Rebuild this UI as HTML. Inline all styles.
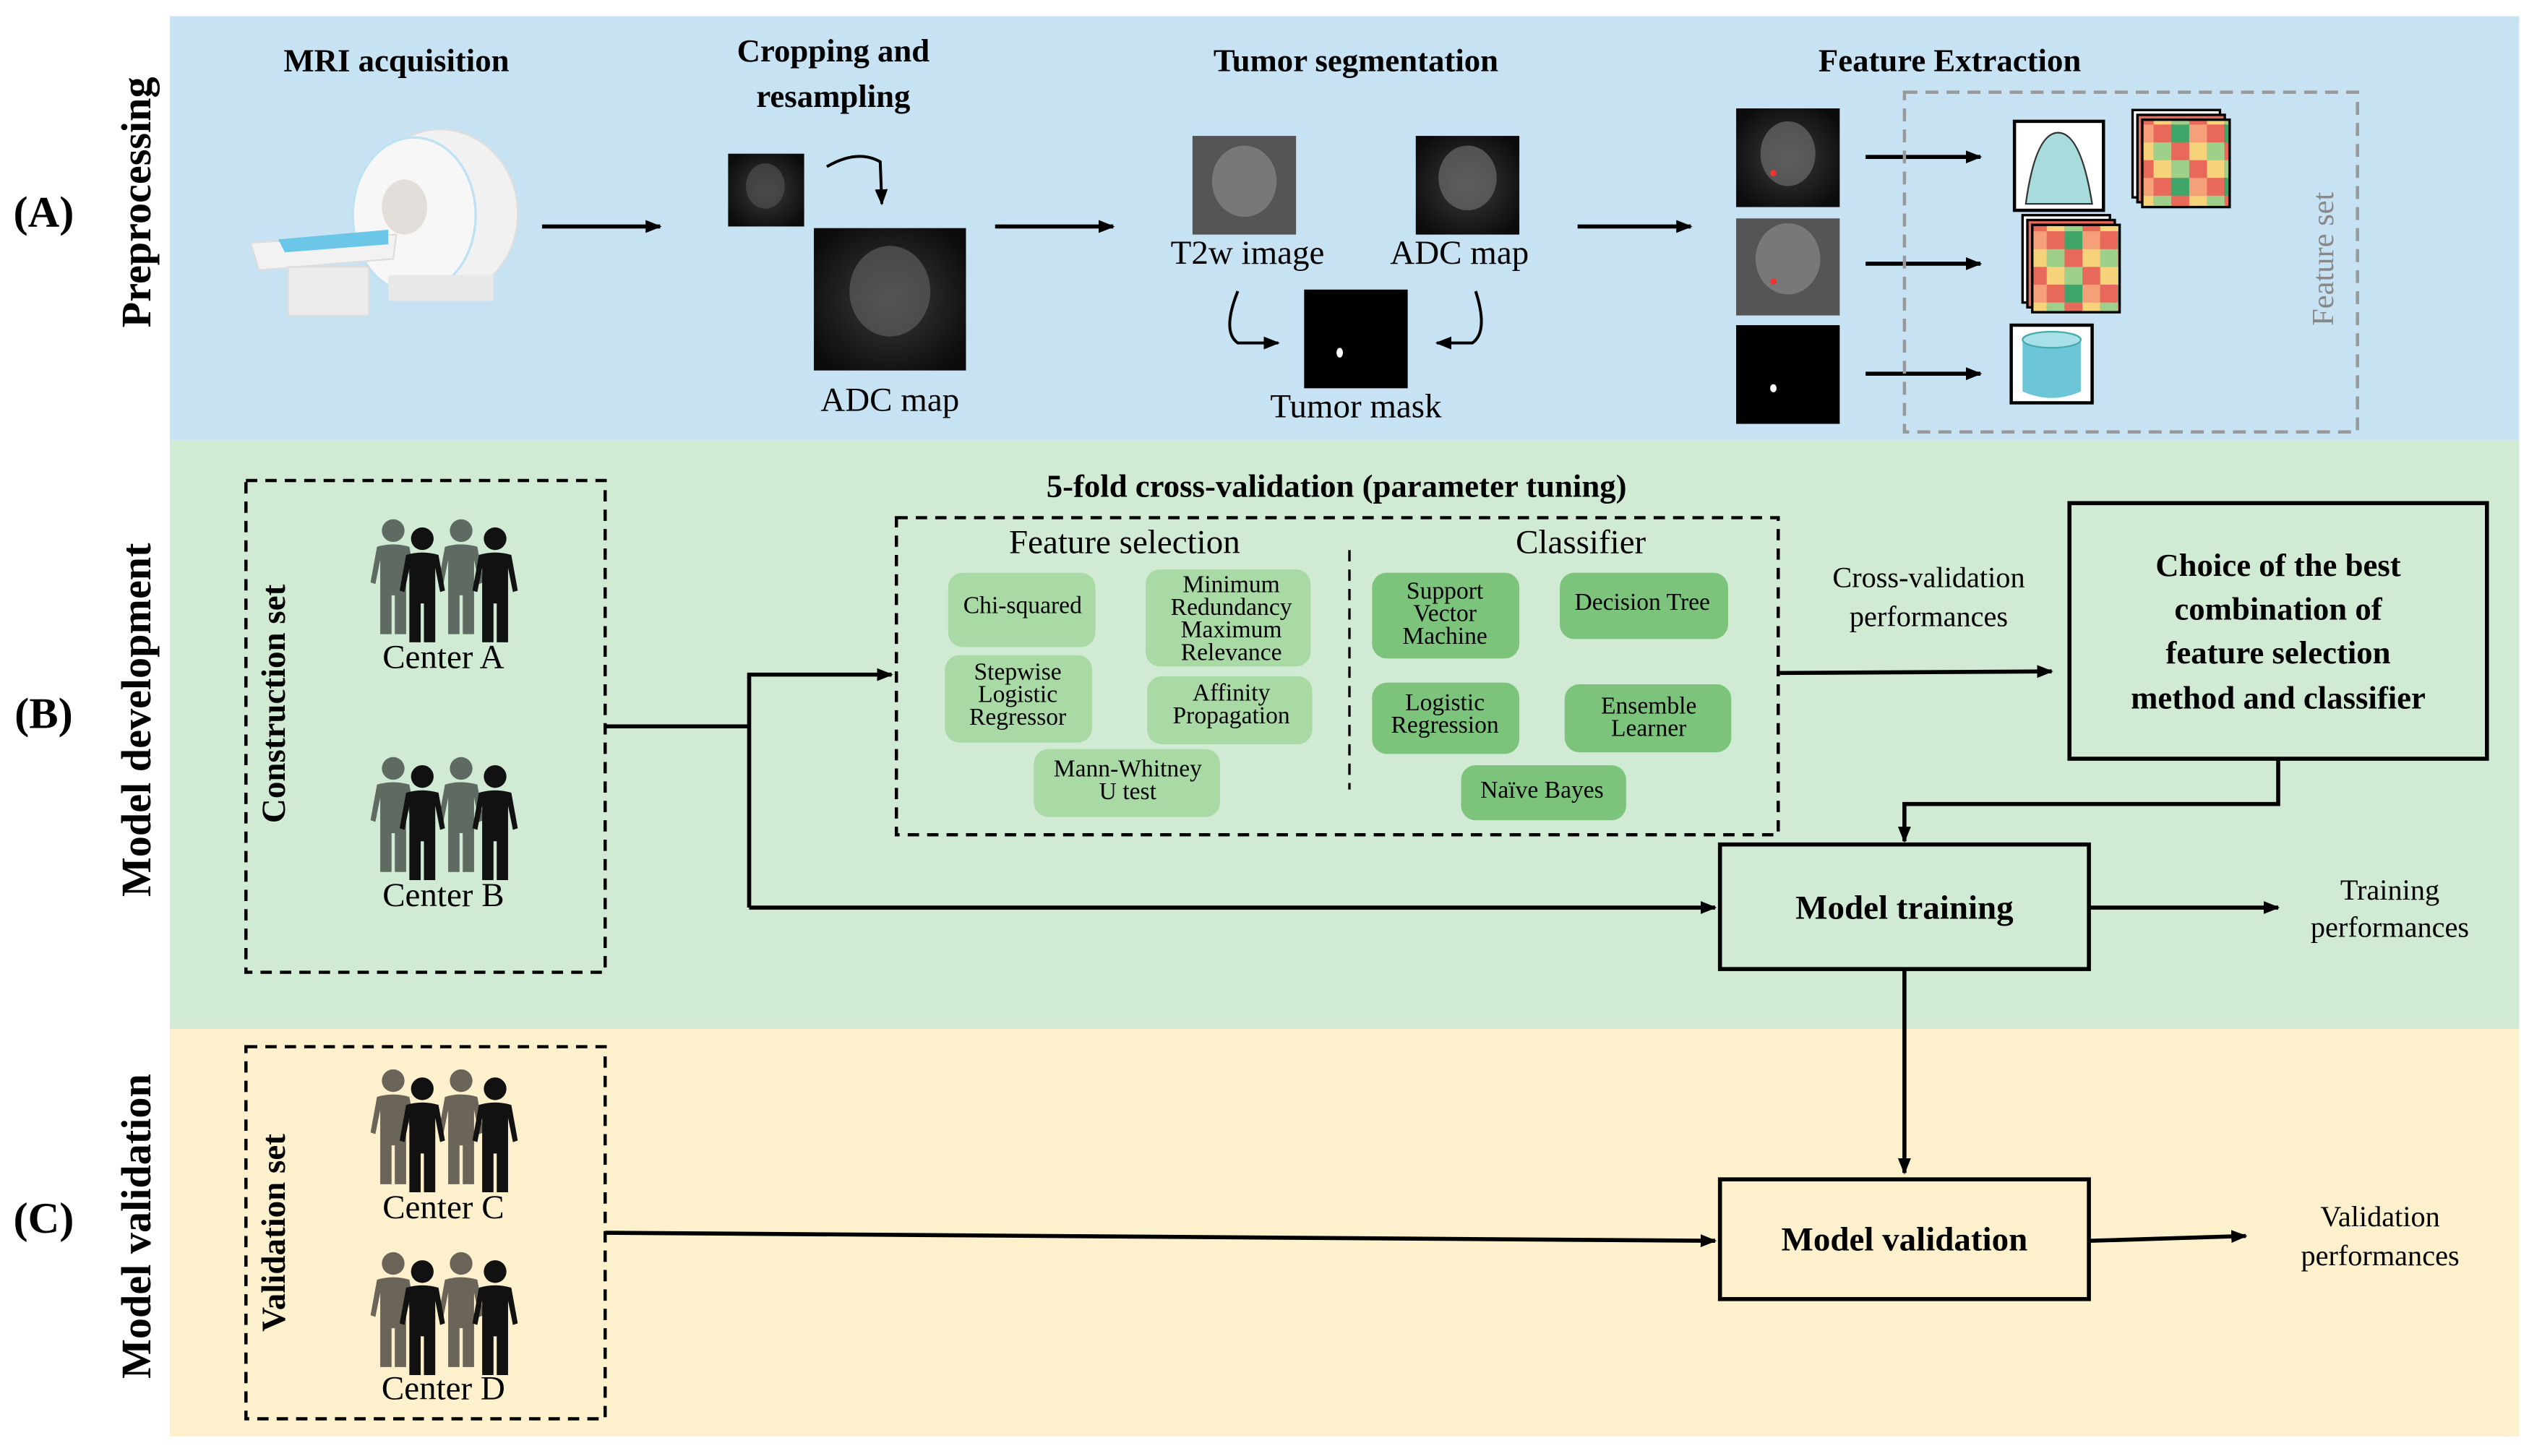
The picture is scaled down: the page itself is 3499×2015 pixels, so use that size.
<!DOCTYPE html>
<html><head><meta charset="utf-8"><style>html,body{margin:0;padding:0;background:#fff}svg{display:block}svg text{font-family:"Liberation Serif","Times New Roman","DejaVu Serif",serif}</style></head><body>
<svg width="3499" height="2015" viewBox="0 0 1563 900" preserveAspectRatio="none" xmlns="http://www.w3.org/2000/svg">
<defs>
<marker id="ah" markerWidth="10" markerHeight="8" refX="9" refY="4" orient="auto" markerUnits="userSpaceOnUse"><path d="M0,0 L10,4 L0,8 z" fill="#000"/></marker>
<g id="p">
<circle cx="15" cy="8" r="7"/>
<path d="M5,18 Q15,15 25,18 L29,40 L26,41 L23,26 L23,72 L16,72 L16,48 L14,48 L14,72 L7,72 L7,26 L4,41 L1,40 Z"/>
</g>
<g id="grp">
<use href="#p" x="0" y="0" fill="#5f6a62"/>
<use href="#p" x="42" y="0" fill="#5f6a62"/>
<use href="#p" x="18" y="5" fill="#111"/>
<use href="#p" x="63" y="5" fill="#111"/>
</g>
<g id="grpC">
<use href="#p" x="0" y="0" fill="#6b6458"/>
<use href="#p" x="42" y="0" fill="#6b6458"/>
<use href="#p" x="18" y="5" fill="#111"/>
<use href="#p" x="63" y="5" fill="#111"/>
</g>
<pattern id="hm" width="33" height="33" patternUnits="userSpaceOnUse">
<rect width="11" height="11" fill="#e8685a"/><rect x="11" width="11" height="11" fill="#f6d27a"/><rect x="22" width="11" height="11" fill="#9fd08a"/>
<rect y="11" width="11" height="11" fill="#f6a07a"/><rect x="11" y="11" width="11" height="11" fill="#e8685a"/><rect x="22" y="11" width="11" height="11" fill="#3fa66a"/>
<rect y="22" width="11" height="11" fill="#f6d27a"/><rect x="11" y="22" width="11" height="11" fill="#9fd08a"/><rect x="22" y="22" width="11" height="11" fill="#e8685a"/>
</pattern>
<radialGradient id="mri" cx="0.5" cy="0.5" r="0.6"><stop offset="0" stop-color="#3a3a3a"/><stop offset="1" stop-color="#0c0c0c"/></radialGradient>
</defs>
<rect width="1563" height="900" fill="#fff"/>
<rect x="105" y="10" width="1452" height="262" fill="#c7e2f3"/>
<rect x="105" y="272" width="1452" height="364" fill="#d1ead4"/>
<rect x="105" y="636" width="1452" height="252" fill="#fdf0cc"/>

<g font-weight="bold" font-size="27">
<text x="27" y="140" text-anchor="middle">(A)</text>
<text x="27" y="450" text-anchor="middle">(B)</text>
<text x="27" y="762" text-anchor="middle">(C)</text>
<text transform="translate(93,125) rotate(-90)" text-anchor="middle" font-size="26">Preprocessing</text>
<text transform="translate(93,445) rotate(-90)" text-anchor="middle" font-size="26">Model development</text>
<text transform="translate(93,758) rotate(-90)" text-anchor="middle" font-size="26">Model validation</text>
</g>

<g font-weight="bold" font-size="20" text-anchor="middle">
<text x="245" y="44">MRI acquisition</text>
<text x="515" y="38">Cropping and</text>
<text x="515" y="66">resampling</text>
<text x="838" y="44">Tumor segmentation</text>
<text x="1205" y="44">Feature Extraction</text>
</g>

<!-- MRI scanner -->
<ellipse cx="272" cy="132" rx="48" ry="52" fill="#f1f1f1" stroke="#dedede"/>
<ellipse cx="256" cy="133" rx="38" ry="48" fill="#f7f7f7" stroke="#bfe2f2" stroke-width="1.5"/>
<ellipse cx="250" cy="128" rx="14" ry="17" fill="#e2dfdb"/>
<rect x="240" y="170" width="65" height="16" fill="#e8e8e8"/>
<path d="M155,150 L245,145 L243,160 L160,167 Z" fill="#f2f2f2" stroke="#ddd"/>
<path d="M172,148 L240,142 L240,151 L176,156 Z" fill="#6cc6e8"/>
<rect x="178" y="165" width="50" height="30" fill="#ececec" stroke="#ddd"/>

<g stroke="#000" stroke-width="2.5" fill="none">
<line x1="335" y1="140" x2="408" y2="140" marker-end="url(#ah)"/>
<line x1="615" y1="140" x2="688" y2="140" marker-end="url(#ah)"/>
<line x1="975" y1="140" x2="1045" y2="140" marker-end="url(#ah)"/>
<line x1="1153" y1="97" x2="1224" y2="97" marker-end="url(#ah)"/>
<line x1="1153" y1="163" x2="1224" y2="163" marker-end="url(#ah)"/>
<line x1="1153" y1="231" x2="1224" y2="231" marker-end="url(#ah)"/>
</g>
<g stroke="#000" stroke-width="1.8" fill="none">
<path d="M511,103 Q530,92 544,100 L545,126" marker-end="url(#ah)"/>
<path d="M765,180 Q755,205 765,212 L790,212" marker-end="url(#ah)"/>
<path d="M912,180 Q920,205 910,212 L888,212" marker-end="url(#ah)"/>
</g>

<rect x="450" y="95" width="47" height="45" fill="url(#mri)"/>
<ellipse cx="473" cy="115" rx="12" ry="14" fill="#555" opacity="0.6"/>
<rect x="503" y="141" width="94" height="88" fill="url(#mri)"/>
<ellipse cx="550" cy="180" rx="25" ry="28" fill="#666" opacity="0.6"/>
<text x="550" y="254" font-size="21" text-anchor="middle">ADC map</text>

<rect x="737" y="84" width="64" height="61" fill="#555"/>
<ellipse cx="769" cy="112" rx="20" ry="22" fill="#888" opacity="0.7"/>
<rect x="875" y="84" width="64" height="61" fill="url(#mri)"/>
<ellipse cx="907" cy="110" rx="18" ry="20" fill="#777" opacity="0.6"/>
<text x="771" y="163" font-size="21" text-anchor="middle">T2w image</text>
<text x="902" y="163" font-size="21" text-anchor="middle">ADC map</text>
<rect x="806" y="179" width="64" height="61" fill="#000"/>
<ellipse cx="828" cy="218" rx="2" ry="3" fill="#fff"/>
<text x="838" y="258" font-size="21" text-anchor="middle">Tumor mask</text>

<rect x="1073" y="67" width="64" height="61" fill="url(#mri)"/>
<ellipse cx="1105" cy="95" rx="17" ry="20" fill="#777" opacity="0.6"/>
<circle cx="1096" cy="107" r="2" fill="#e33"/>
<rect x="1073" y="135" width="64" height="60" fill="#555"/>
<ellipse cx="1105" cy="160" rx="20" ry="22" fill="#888" opacity="0.7"/>
<circle cx="1096" cy="174" r="2" fill="#e33"/>
<rect x="1073" y="201" width="64" height="61" fill="#000"/>
<ellipse cx="1096" cy="240" rx="2" ry="2.5" fill="#fff"/>

<rect x="1177" y="57" width="280" height="210" fill="none" stroke="#999" stroke-width="2" stroke-dasharray="8,5"/>
<text transform="translate(1442,160) rotate(-90)" font-size="19" fill="#888" text-anchor="middle">Feature set</text>
<rect x="1245" y="75" width="55" height="55" fill="#fff" stroke="#000" stroke-width="2"/>
<path d="M1252,126 Q1258,82 1272,82 Q1286,82 1293,126 Z" fill="#a8dcdc" stroke="#333"/>
<g stroke="#000" stroke-width="1.5">
<rect x="1318" y="68" width="54" height="54" fill="#fff"/>
<rect x="1321" y="71" width="54" height="54" fill="#e8685a"/>
<rect x="1324" y="74" width="54" height="54" fill="url(#hm)"/>
<rect x="1250" y="133" width="54" height="54" fill="#fff"/>
<rect x="1253" y="136" width="54" height="54" fill="#e8685a"/>
<rect x="1256" y="139" width="54" height="54" fill="url(#hm)"/>
</g>
<rect x="1243" y="201" width="50" height="48" fill="#fff" stroke="#000" stroke-width="2"/>
<path d="M1250,210 L1250,242 Q1268,250 1286,242 L1286,210 Z" fill="#6cc6d8"/>
<ellipse cx="1268" cy="210" rx="18" ry="5" fill="#a8e0ea" stroke="#4aa"/>

<!-- Section B -->
<rect x="152" y="297" width="222" height="304" fill="none" stroke="#000" stroke-width="2" stroke-dasharray="7,5"/>
<text transform="translate(176,435) rotate(-90)" font-size="21" font-weight="bold" text-anchor="middle">Construction set</text>
<use href="#grp" x="228" y="320"/>
<text x="274" y="413" font-size="21" text-anchor="middle">Center A</text>
<use href="#grp" x="228" y="467"/>
<text x="274" y="560" font-size="21" text-anchor="middle">Center B</text>

<g stroke="#000" stroke-width="2.5" fill="none">
<polyline points="374,449 463,449"/>
<polyline points="463,561 463,417 551,417" marker-end="url(#ah)"/>
<line x1="463" y1="561" x2="1060" y2="561" marker-end="url(#ah)"/>
<line x1="1099" y1="416" x2="1268" y2="415" marker-end="url(#ah)"/>
<polyline points="1408,469 1408,497 1177,497 1177,520" marker-end="url(#ah)"/>
<line x1="1291" y1="561" x2="1408" y2="561" marker-end="url(#ah)"/>
<line x1="1177" y1="599" x2="1177" y2="725" marker-end="url(#ah)"/>
<line x1="374" y1="762" x2="1060" y2="767" marker-end="url(#ah)"/>
<line x1="1291" y1="767" x2="1388" y2="764" marker-end="url(#ah)"/>
</g>

<text x="826" y="307" font-size="20" font-weight="bold" text-anchor="middle">5-fold cross-validation (parameter tuning)</text>
<rect x="554" y="320" width="545" height="196" fill="none" stroke="#000" stroke-width="2" stroke-dasharray="7,5"/>
<line x1="834" y1="340" x2="834" y2="488" stroke="#000" stroke-width="1.5" stroke-dasharray="7,5"/>
<text x="695" y="342" font-size="21" text-anchor="middle">Feature selection</text>
<text x="977" y="342" font-size="21" text-anchor="middle">Classifier</text>

<g fill="#a9d9a4">
<rect x="586" y="354" width="91" height="46" rx="9"/>
<rect x="708" y="352" width="102" height="60" rx="9"/>
<rect x="584" y="405" width="91" height="54" rx="9"/>
<rect x="709" y="418" width="102" height="42" rx="9"/>
<rect x="639" y="463" width="115" height="42" rx="9"/>
</g>
<g fill="#7cc47c">
<rect x="848" y="354" width="91" height="53" rx="9"/>
<rect x="964" y="354" width="104" height="41" rx="9"/>
<rect x="848" y="422" width="91" height="44" rx="9"/>
<rect x="967" y="423" width="103" height="42" rx="9"/>
<rect x="903" y="473" width="102" height="34" rx="9"/>
</g>
<g font-size="15" text-anchor="middle">
<text x="632" y="379">Chi-squared</text>
<text x="761" y="366">Minimum</text><text x="761" y="380">Redundancy</text><text x="761" y="394">Maximum</text><text x="761" y="408">Relevance</text>
<text x="629" y="420">Stepwise</text><text x="629" y="434">Logistic</text><text x="629" y="448">Regressor</text>
<text x="761" y="433">Affinity</text><text x="761" y="447">Propagation</text>
<text x="697" y="480">Mann-Whitney</text><text x="697" y="494">U test</text>
<text x="893" y="370">Support</text><text x="893" y="384">Vector</text><text x="893" y="398">Machine</text>
<text x="1015" y="377">Decision Tree</text>
<text x="893" y="439">Logistic</text><text x="893" y="453">Regression</text>
<text x="1019" y="441">Ensemble</text><text x="1019" y="455">Learner</text>
<text x="953" y="493">Naïve Bayes</text>
</g>

<text x="1192" y="363" font-size="18" text-anchor="middle">Cross-validation</text>
<text x="1192" y="387" font-size="18" text-anchor="middle">performances</text>
<rect x="1279" y="311" width="258" height="158" fill="none" stroke="#000" stroke-width="2.5"/>
<g font-size="20" font-weight="bold" text-anchor="middle">
<text x="1408" y="356">Choice of the best</text>
<text x="1408" y="383">combination of</text>
<text x="1408" y="410">feature selection</text>
<text x="1408" y="438">method and classifier</text>
</g>
<rect x="1063" y="522" width="228" height="77" fill="none" stroke="#000" stroke-width="2.5"/>
<text x="1177" y="568" font-size="21" font-weight="bold" text-anchor="middle">Model training</text>
<text x="1477" y="556" font-size="18" text-anchor="middle">Training</text>
<text x="1477" y="579" font-size="18" text-anchor="middle">performances</text>

<!-- Section C -->
<rect x="152" y="647" width="222" height="230" fill="none" stroke="#000" stroke-width="2" stroke-dasharray="7,5"/>
<text transform="translate(176,762) rotate(-90)" font-size="21" font-weight="bold" text-anchor="middle">Validation set</text>
<use href="#grpC" x="228" y="660"/>
<text x="274" y="753" font-size="21" text-anchor="middle">Center C</text>
<use href="#grpC" x="228" y="773"/>
<text x="274" y="865" font-size="21" text-anchor="middle">Center D</text>
<rect x="1063" y="729" width="228" height="74" fill="none" stroke="#000" stroke-width="2.5"/>
<text x="1177" y="773" font-size="21" font-weight="bold" text-anchor="middle">Model validation</text>
<text x="1471" y="758" font-size="18" text-anchor="middle">Validation</text>
<text x="1471" y="782" font-size="18" text-anchor="middle">performances</text>
</svg>
</body></html>
